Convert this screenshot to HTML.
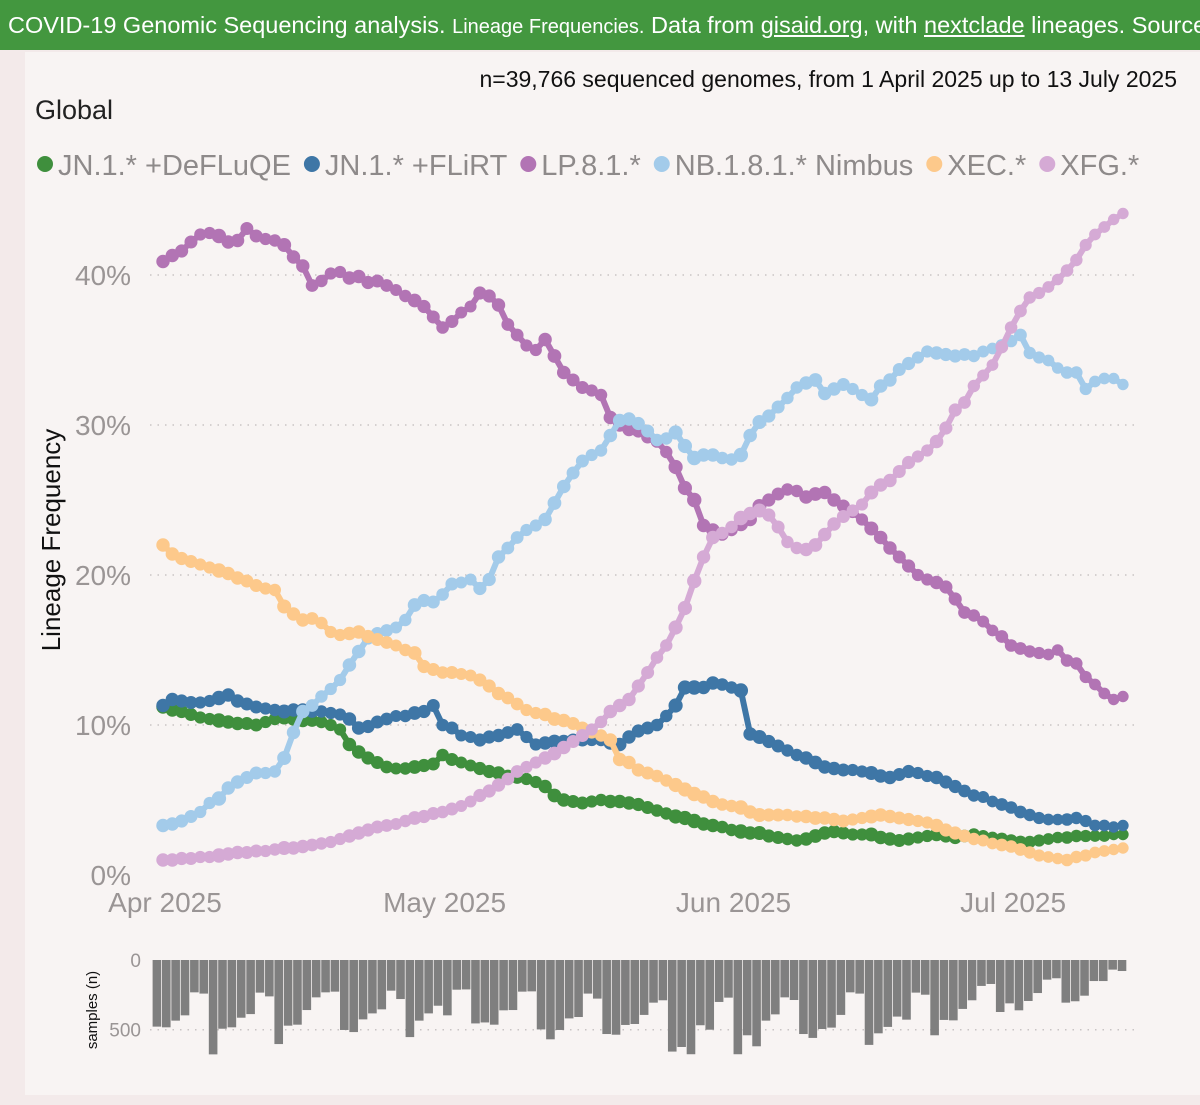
<!DOCTYPE html>
<html><head><meta charset="utf-8">
<style>
html,body{margin:0;padding:0;width:1200px;height:1105px;overflow:hidden;background:#f3eaea;font-family:"Liberation Sans",sans-serif;}
#hdr{position:absolute;left:0;top:0;width:1200px;height:50px;background:#43973f;color:#fff;white-space:nowrap;overflow:hidden;line-height:50px;padding-left:8px;box-sizing:border-box;font-size:23.5px;}
#hdr .sm{font-size:20px}
#hdr u{text-decoration:underline}
#panel{position:absolute;left:25px;top:52px;width:1175px;height:1043px;background:#f8f4f3;}
svg{position:absolute;left:0;top:0}
</style></head><body>
<div id="hdr">COVID-19 Genomic Sequencing analysis. <span class="sm">Lineage Frequencies.</span> Data from <u>gisaid.org</u>, with <u>nextclade</u> lineages. Source</div>
<div id="panel"></div>
<svg id="chart" width="1200" height="1105">
<text x="1177" y="87" text-anchor="end" font-size="23" fill="#111">n=39,766 sequenced genomes, from 1 April 2025 up to 13 July 2025</text>
<text x="35" y="119" font-size="27" fill="#222">Global</text>
<g id="legend"></g>
<g id="grid"></g><g id="series"></g><g id="bars"></g>
<text transform="translate(60,540) rotate(-90)" text-anchor="middle" font-size="26" fill="#111">Lineage Frequency</text>
<text transform="translate(97,1010) rotate(-90)" text-anchor="middle" font-size="15" fill="#111">samples (n)</text>
</svg>
<script>
const NS="http://www.w3.org/2000/svg";
const seriesNames=["JN.1.* +DeFLuQE","JN.1.* +FLiRT","LP.8.1.*","NB.1.8.1.* Nimbus","XEC.*","XFG.*"];
const seriesColors=["#3f8f3d","#3e76a6","#b274b4","#a3cbea","#fdc98b","#d5aad5"];
const deflu=[11.2,11.0,10.9,10.7,10.5,10.4,10.3,10.2,10.1,10.1,10.0,10.2,10.4,10.5,10.4,10.3,10.3,10.2,10.0,9.7,8.7,8.2,7.8,7.5,7.2,7.1,7.1,7.2,7.3,7.4,8.0,7.7,7.5,7.3,7.1,6.9,6.8,6.6,6.5,6.4,6.2,5.9,5.3,5.0,4.9,4.8,4.9,5.0,4.9,4.9,4.8,4.7,4.5,4.3,4.1,3.9,3.8,3.6,3.4,3.3,3.2,3.0,2.9,2.8,2.8,2.6,2.5,2.4,2.3,2.4,2.6,2.8,2.9,2.8,2.7,2.7,2.7,2.5,2.4,2.3,2.4,2.5,2.6,2.7,2.6,2.5,2.6,2.7,2.6,2.5,2.4,2.3,2.2,2.2,2.3,2.4,2.5,2.5,2.6,2.6,2.6,2.6,2.7,2.7];
const flirt=[11.3,11.7,11.6,11.5,11.5,11.6,11.8,12.0,11.6,11.4,11.2,11.1,11.0,10.9,11.0,11.0,10.9,10.9,10.8,10.7,10.4,9.8,9.9,10.2,10.4,10.6,10.6,10.8,10.9,11.3,10.0,9.8,9.3,9.2,9.0,9.2,9.3,9.5,9.7,9.2,8.7,8.8,8.9,8.9,9.0,9.0,9.0,9.0,8.8,8.7,9.2,9.6,9.8,10.0,10.6,11.3,12.5,12.5,12.5,12.8,12.7,12.5,12.3,9.4,9.2,8.9,8.6,8.3,8.0,7.8,7.5,7.2,7.1,7.0,7.0,6.9,6.8,6.6,6.5,6.7,6.9,6.8,6.6,6.5,6.2,5.9,5.6,5.3,5.2,4.9,4.7,4.5,4.2,4.0,3.8,3.7,3.7,3.7,3.8,3.6,3.3,3.3,3.2,3.3];
const lp81=[40.9,41.3,41.6,42.2,42.7,42.8,42.6,42.2,42.3,43.1,42.6,42.4,42.3,42.0,41.2,40.6,39.3,39.6,40.1,40.2,39.8,39.9,39.5,39.6,39.3,39.0,38.6,38.3,37.9,37.2,36.5,36.9,37.5,37.9,38.8,38.6,38.0,36.7,36.0,35.3,35.0,35.7,34.6,33.5,33.0,32.5,32.3,32.0,30.5,30.0,29.7,29.6,29.2,28.9,28.2,27.2,25.8,25.0,23.3,23.0,22.7,23.0,23.4,23.7,24.6,25.0,25.4,25.7,25.6,25.2,25.4,25.5,25.0,24.6,24.2,23.7,23.1,22.5,21.8,21.2,20.6,20.0,19.7,19.5,19.2,18.4,17.5,17.3,16.9,16.3,15.9,15.3,15.1,14.9,14.8,14.7,15.0,14.3,14.1,13.2,12.7,12.1,11.7,11.9];
const nb181=[3.3,3.4,3.6,3.9,4.2,4.8,5.1,5.8,6.2,6.5,6.8,6.8,6.9,7.8,9.5,10.9,11.3,11.9,12.4,13.0,14.0,14.9,15.8,16.1,16.3,16.5,17.0,18.0,18.3,18.2,18.7,19.4,19.5,19.7,19.1,19.7,21.2,21.8,22.5,23.0,23.3,23.7,24.8,25.9,26.8,27.6,28.0,28.3,29.3,30.3,30.4,30.1,29.6,29.0,29.1,29.5,28.6,27.8,28.0,28.0,27.8,27.7,28.0,29.3,30.2,30.6,31.2,31.8,32.5,32.8,33.0,32.1,32.4,32.7,32.4,32.0,31.7,32.6,33.0,33.7,34.1,34.5,34.9,34.8,34.7,34.6,34.7,34.6,34.9,35.1,35.3,35.6,36.0,34.8,34.5,34.3,33.8,33.5,33.5,32.4,32.9,33.1,33.1,32.7];
const xec=[22.0,21.4,21.1,20.9,20.7,20.5,20.3,20.1,19.8,19.6,19.3,19.1,19.0,17.9,17.4,17.0,17.1,16.8,16.2,16.0,16.1,16.2,15.9,15.7,15.5,15.3,15.0,14.8,13.9,13.7,13.5,13.5,13.4,13.3,13.0,12.6,12.1,11.8,11.4,11.0,10.8,10.7,10.4,10.3,10.1,9.8,9.5,9.3,9.0,7.7,7.5,7.0,6.8,6.6,6.3,6.0,5.7,5.4,5.2,4.9,4.7,4.6,4.5,4.2,4.0,4.0,4.0,4.0,3.9,3.9,3.8,3.8,3.7,3.6,3.7,3.8,3.9,4.0,3.9,3.8,3.7,3.6,3.5,3.3,3.0,2.8,2.6,2.4,2.3,2.1,2.0,1.9,1.7,1.5,1.3,1.2,1.1,1.0,1.2,1.3,1.5,1.6,1.7,1.8];
const xfg=[1.0,1.0,1.1,1.1,1.2,1.2,1.3,1.4,1.5,1.5,1.6,1.6,1.7,1.8,1.8,1.9,2.0,2.1,2.2,2.4,2.6,2.8,3.0,3.2,3.3,3.4,3.6,3.8,3.9,4.1,4.2,4.4,4.6,4.9,5.3,5.6,6.0,6.4,6.9,7.2,7.5,7.8,8.1,8.5,8.9,9.3,9.7,10.2,10.9,11.3,11.7,12.6,13.5,14.5,15.3,16.5,17.8,19.6,21.2,22.5,22.8,23.2,23.8,24.1,24.3,24.0,23.2,22.2,21.8,21.7,22.0,22.7,23.4,23.9,24.3,24.7,25.5,26.0,26.3,26.9,27.5,27.9,28.3,28.9,29.8,31.0,31.5,32.6,33.3,34.0,35.2,36.5,37.6,38.5,38.8,39.2,39.7,40.3,41.0,42.0,42.7,43.2,43.7,44.1];
const samples=[478,483,435,397,232,241,677,493,483,414,388,234,261,603,471,464,359,268,232,227,502,517,426,383,354,220,280,553,435,383,328,397,213,211,455,448,464,361,359,227,225,498,569,502,419,409,241,277,531,536,466,459,394,306,289,657,624,676,468,500,301,270,676,540,619,435,390,268,287,531,559,495,485,394,232,241,609,526,480,406,428,234,249,540,430,433,351,289,186,172,373,311,361,294,237,141,131,306,296,256,151,151,69,79];
const yTicks=[0,10,20,30,40];
const yTickLabels=["0%","10%","20%","30%","40%"];
const xTickDays=[0,30,61,91];
const xTickLabels=["Apr 2025","May 2025","Jun 2025","Jul 2025"];
const barTicks=[0,500];
const barTickLabels=["0","500"];

const X=d=>163+9.32*d;
const Y=v=>875-15*v;
const BX=i=>157+9.37*i;
const BY=n=>960+0.1394*n;
function mk(t,a,p){const e=document.createElementNS(NS,t);for(const k in a)e.setAttribute(k,a[k]);p.appendChild(e);return e;}

const grid=document.getElementById('grid');
yTicks.forEach((v,i)=>{
  if(v>0){const l=mk('line',{x1:150,x2:1135,y1:Y(v),y2:Y(v),stroke:'#c9c4c4','stroke-width':1.5,'stroke-dasharray':'1.5 6'},grid);
  
  }
  const t=mk('text',{x:131,y:Y(v)+10,'text-anchor':'end','font-size':28,fill:'#9a9595'},grid);t.textContent=yTickLabels[i];
  
  
});
xTickDays.forEach((d,i)=>{
  const t=mk('text',{x:X(d)+2,y:912,'text-anchor':'middle','font-size':28,fill:'#9a9595'},grid);t.textContent=xTickLabels[i];
  
  
});

const ser=document.getElementById('series');
[deflu,flirt,lp81,nb181,xec,xfg].forEach((arr,si)=>{
  const g=mk('g',{},ser);
  
  
  const pts=arr.map((v,d)=>X(d)+','+Y(v)).join(' ');
  const pl=mk('polyline',{points:pts,fill:'none',stroke:seriesColors[si],'stroke-width':6,'stroke-linejoin':'round'},g);
  
  
  arr.forEach((v,d)=>{
    const c=mk('circle',{cx:X(d),cy:Y(v),r:(5.5+samples[d]/400).toFixed(1),fill:seriesColors[si]},g);
    
    
  });
});

const bars=document.getElementById('bars');
const bl=mk('line',{x1:150,x2:1135,y1:BY(500),y2:BY(500),stroke:'#c9c4c4','stroke-width':1.5,'stroke-dasharray':'1.5 6'},bars);


barTicks.forEach((v,i)=>{
  const t=mk('text',{x:141,y:BY(v)+7,'text-anchor':'end','font-size':19,fill:'#9a9595'},bars);t.textContent=barTickLabels[i];
  
  
});
samples.forEach((n,i)=>{
  const r=mk('rect',{x:BX(i)-4.4,y:BY(0),width:8.6,height:BY(n)-BY(0),fill:'#7f7f7f'},bars);
  
  
});

const leg=document.getElementById('legend');
let lx=38;
seriesNames.forEach((nm,i)=>{
  const c=mk('circle',{cx:lx+7,cy:164,r:8,fill:seriesColors[i]},leg);
  
  
  const t=mk('text',{x:lx+20,y:175,'font-size':29,fill:'#8e8a8a'},leg);t.textContent=nm;
  
  
  lx+=20+t.getComputedTextLength()+14;
});
</script>
</body></html>
